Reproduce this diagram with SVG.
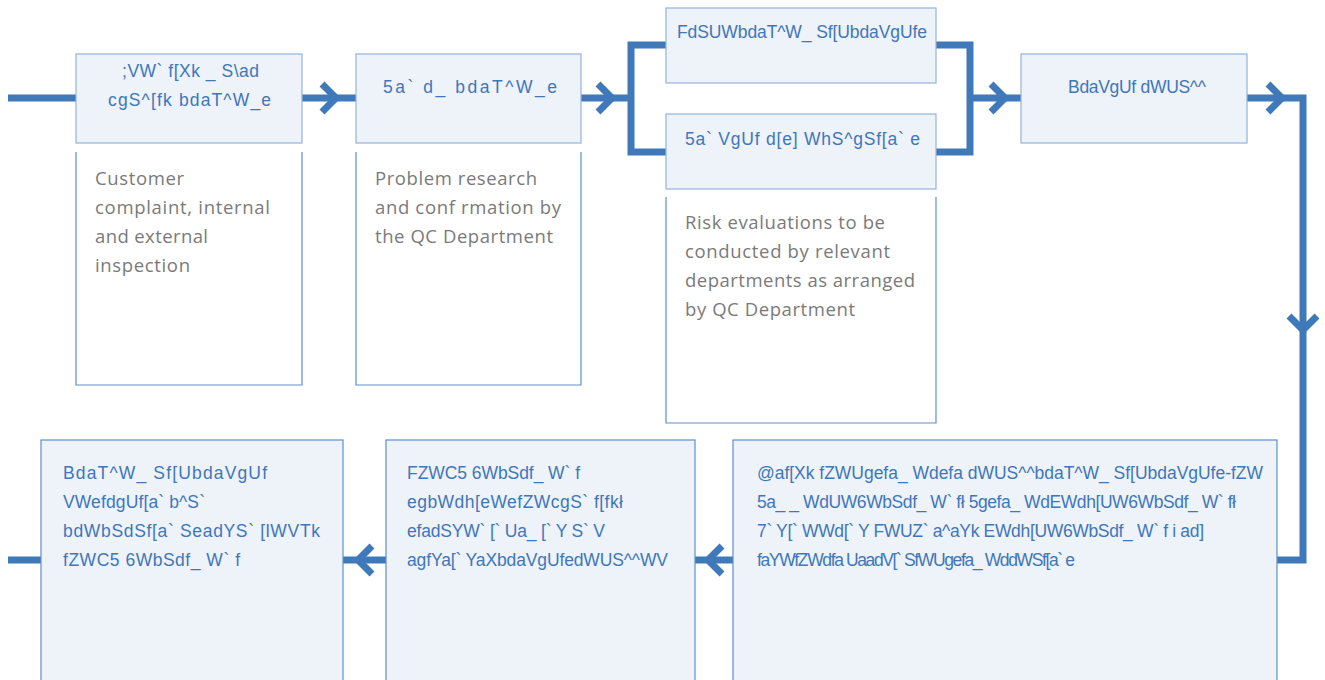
<svg xmlns="http://www.w3.org/2000/svg" width="1325" height="680" viewBox="0 0 1325 680">
<style>
.box{fill:#EEF2F9;stroke:#93B3DA;stroke-width:1.2}
.boxb{fill:#EEF2F9;stroke:#5F8FCB;stroke-width:1.2}
.desc{fill:none;stroke:#5F8FCB;stroke-width:1.2}
.t{font-family:"Liberation Sans",Arial,sans-serif;font-size:17.5px;fill:#3F77BB}
.d{font-family:"Open Sans","Liberation Sans",sans-serif;font-size:18.5px;fill:#7A7A7A}
.ln{fill:none;stroke:#3F79BA;stroke-width:7;stroke-linejoin:miter;stroke-linecap:butt}
</style>
<defs>
<path id="chev" d="M-14,-14 L0,0 L-14,14" fill="none" stroke="#3F79BA" stroke-width="7" stroke-linejoin="miter"/>
</defs>
<g id="connectors">
<polyline class="ln" points="8,98 76,98"/>
<polyline class="ln" points="302,98 356,98"/>
<use href="#chev" transform="translate(336,98)"/>
<polyline class="ln" points="581,98 631,98"/>
<use href="#chev" transform="translate(612,98)"/>
<polyline class="ln" points="666,45 631,45 631,152 666,152"/>
<polyline class="ln" points="936,45 970,45 970,152 936,152"/>
<polyline class="ln" points="970,98 1021,98"/>
<use href="#chev" transform="translate(1005,98)"/>
<polyline class="ln" points="1247,98 1303,98 1303,560 1277,560"/>
<use href="#chev" transform="translate(1282,98)"/>
<use href="#chev" transform="translate(1303,330) rotate(90)"/>
<polyline class="ln" points="733,560 695,560"/>
<use href="#chev" transform="translate(708,560) rotate(180)"/>
<polyline class="ln" points="386,560 343,560"/>
<use href="#chev" transform="translate(358,560) rotate(180)"/>
<polyline class="ln" points="41,560 8,560"/>
</g>
<g id="n1">
<rect class="box" x="76" y="54" width="226" height="89"/>
<text class="t" x="122" y="77" textLength="137">;VW` f[Xk _ S\ad</text>
<text class="t" x="108" y="106" textLength="163">cgS^[fk bdaT^W_e</text>
</g>
<g id="n1desc">
<path class="desc" d="M76,152 V385 H302 V152"/>
<text class="d" x="95" y="185" textLength="89">Customer</text>
<text class="d" x="95" y="214" textLength="175">complaint, internal</text>
<text class="d" x="95" y="243" textLength="113">and external</text>
<text class="d" x="95" y="272" textLength="95">inspection</text>
</g>
<g id="n2">
<rect class="box" x="356" y="54" width="225" height="89"/>
<text class="t" x="383" y="93" textLength="174">5a` d_ bdaT^W_e</text>
</g>
<g id="n2desc">
<path class="desc" d="M356,152 V385 H581 V152"/>
<text class="d" x="375" y="185" textLength="162">Problem research</text>
<text class="d" x="375" y="214" textLength="186">and conf rmation by</text>
<text class="d" x="375" y="243" textLength="178">the QC Department</text>
</g>
<g id="n3">
<rect class="box" x="666" y="8" width="270" height="75"/>
<text class="t" x="677" y="38" textLength="250">FdSUWbdaT^W_ Sf[UbdaVgUfe</text>
</g>
<g id="n4">
<rect class="box" x="666" y="114" width="270" height="75"/>
<text class="t" x="685" y="145" textLength="235">5a` VgUf d[e] WhS^gSf[a` e</text>
</g>
<g id="n4desc">
<path class="desc" d="M666,197 V423 H936 V197"/>
<text class="d" x="685" y="229" textLength="200">Risk evaluations to be</text>
<text class="d" x="685" y="258" textLength="205">conducted by relevant</text>
<text class="d" x="685" y="287" textLength="230">departments as arranged</text>
<text class="d" x="685" y="316" textLength="170">by QC Department</text>
</g>
<g id="n5">
<rect class="box" x="1021" y="54" width="226" height="89"/>
<text class="t" x="1068" y="93" textLength="138">BdaVgUf dWUS^^</text>
</g>
<g id="n6">
<rect class="boxb" x="733" y="440" width="544" height="250"/>
<text class="t" x="757" y="479" textLength="506">@af[Xk fZWUgefa_ Wdefa dWUS^^bdaT^W_ Sf[UbdaVgUfe-fZW</text>
<text class="t" x="757" y="508" textLength="479">5a_ _ WdUW6WbSdf_ W` fł 5gefa_ WdEWdh[UW6WbSdf_ W` fł</text>
<text class="t" x="757" y="537" textLength="447">7` Y[` WWd[` Y FWUZ` a^aYk EWdh[UW6WbSdf_ W` f i ad]</text>
<text class="t" x="757" y="566" textLength="318">faYWfZWdfa UaadV[` SfWUgefa_ WddWSf[a` e</text>
</g>
<g id="n7">
<rect class="boxb" x="386" y="440" width="309" height="250"/>
<text class="t" x="407" y="479" textLength="173">FZWC5 6WbSdf_ W` f</text>
<text class="t" x="407" y="508" textLength="216">egbWdh[eWefZWcgS` f[fkł</text>
<text class="t" x="407" y="537" textLength="198">efadSYW` [` Ua_ [` Y S` V</text>
<text class="t" x="407" y="566" textLength="261">agfYa[` YaXbdaVgUfedWUS^^WV</text>
</g>
<g id="n8">
<rect class="boxb" x="41" y="440" width="302" height="250"/>
<text class="t" x="63" y="479" textLength="204">BdaT^W_ Sf[UbdaVgUf</text>
<text class="t" x="63" y="508" textLength="142">VWefdgUf[a` b^S`</text>
<text class="t" x="63" y="537" textLength="257">bdWbSdSf[a` SeadYS` [lWVTk</text>
<text class="t" x="63" y="566" textLength="177">fZWC5 6WbSdf_ W` f</text>
</g>
</svg>
